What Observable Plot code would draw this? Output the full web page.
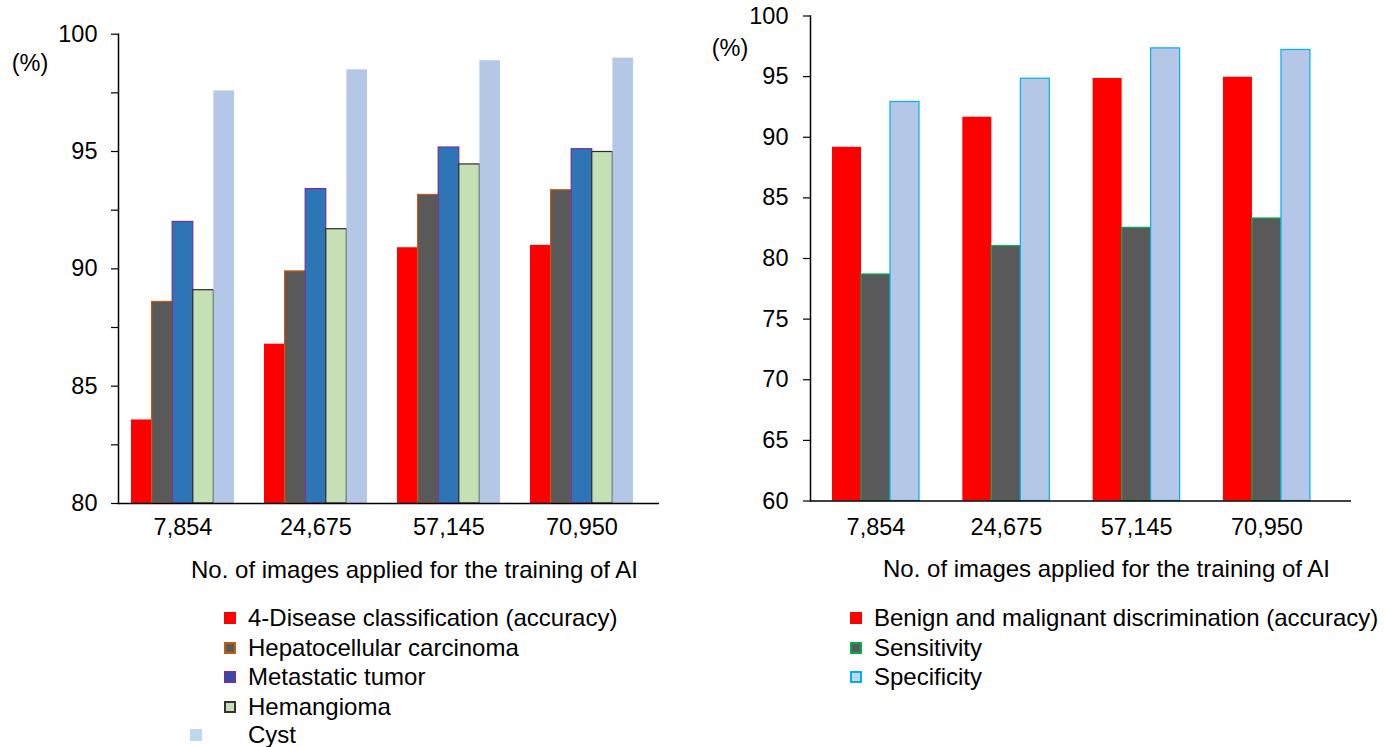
<!DOCTYPE html>
<html>
<head>
<meta charset="utf-8">
<script src="https://cdn.jsdelivr.net/npm/d3@7"></script>
<script src="https://cdn.jsdelivr.net/npm/@observablehq/plot@0.6"></script>
<style>
  body { margin: 0; background: #fff; font-family: "Liberation Sans", Arial, Helvetica, sans-serif; }
  #wrap { position: relative; width: 1389px; height: 747px; overflow: hidden; background: #fff; }
  .chart { position: absolute; top: 0; }
  .row { position: absolute; white-space: nowrap; height: 30px; line-height: 30px; font-size: 24px; color: #000; }
  .sw { position: absolute; width: 12px; height: 12px; box-sizing: border-box; }
</style>
</head>
<body>
<div id="wrap"></div>
<script>
// ---------- data ----------
const groups = ["7,854", "24,675", "57,145", "70,950"];
const xTitle = "No. of images applied for the training of AI";
const unitLabel = "(%)";

const leftSeries = ["4-Disease classification (accuracy)", "Hepatocellular carcinoma", "Metastatic tumor", "Hemangioma", "Cyst"];
const leftAccuracy = [83.56, 86.79, 90.9, 91.0];
const leftHCC = [88.59, 89.89, 93.15, 93.35];
const leftMetastatic = [92.0, 93.4, 95.17, 95.1];
const leftHemangioma = [89.09, 91.69, 94.45, 94.98];
const leftCyst = [97.58, 98.48, 98.87, 98.98];
const leftYDomain = [80, 100];
const leftYTicks = [80, 82.5, 85, 87.5, 90, 92.5, 95, 97.5, 100];

const rightSeries = ["Benign and malignant discrimination (accuracy)", "Sensitivity", "Specificity"];
const rightAccuracy = [89.17, 91.65, 94.85, 94.95];
const rightSensitivity = [78.68, 81.02, 82.53, 83.3];
const rightSpecificity = [92.91, 94.83, 97.33, 97.2];
const rightYDomain = [60, 100];
const rightYTicks = [60, 65, 70, 75, 80, 85, 90, 95, 100];

// ---------- styles ----------
const leftStyles = [
  {fill: "#ff0000", stroke: "none", swFill: "#ff0000", swBorder: "#ff0000"},
  {fill: "#595959", stroke: "#c55a11", swFill: "#595959", swBorder: "#c55a11"},
  {fill: "#2e75b6", stroke: "#7030a0", swFill: "#2f4f9f", swBorder: "#7030a0"},
  {fill: "#c5e0b4", stroke: "#2b2b2b", swFill: "#c5e0b4", swBorder: "#333333"},
  {fill: "#b4c7e7", stroke: "none", swFill: "#bdd7ee", swBorder: "#bdd7ee"}
];
const rightStyles = [
  {fill: "#ff0000", stroke: "none", swFill: "#ff0000", swBorder: "#ff0000"},
  {fill: "#595959", stroke: "#00b050", swFill: "#595959", swBorder: "#00b050"},
  {fill: "#b4c7e7", stroke: "#00b0f0", swFill: "#bdd7ee", swBorder: "#00b0f0"}
];

function groupedBars(cfg) {
  const {width, height, marginLeft, marginRight, marginTop, marginBottom,
         yDomain, yTicks, series, values, styles, band,
         yTickPadding, xTickPadding, titleDx, titleDy, pctDx, pctDy} = cfg;
  const xOpts = {type: "band", domain: groups, paddingInner: band.pi, paddingOuter: band.po, align: band.align, round: false};
  const xs = Plot.scale({x: {...xOpts, range: [marginLeft, width - marginRight]}});
  const w = xs.bandwidth / series.length;
  const bars = series.map((s, i) => {
    const rows = groups.map((g, j) => ({group: g, series: s, value: values[i][j]}));
    return Plot.barY(rows, {
      x: "group", y1: () => yDomain[0], y2: "value",
      fill: styles[i].fill, stroke: styles[i].stroke, strokeWidth: 1.2,
      insetLeft: i * w, insetRight: (series.length - 1 - i) * w
    });
  });
  return Plot.plot({
    width, height, marginLeft, marginRight, marginTop, marginBottom,
    style: {fontSize: "23.5px", fontFamily: "'Liberation Sans', Arial, Helvetica, sans-serif", color: "#000", background: "transparent"},
    x: {...xOpts, axis: null},
    y: {domain: yDomain, axis: null},
    marks: [
      ...bars,
      Plot.ruleY([yDomain[0]], {stroke: "#000", strokeWidth: 1.5}),
      Plot.frame({anchor: "left", stroke: "#000", strokeWidth: 1.5}),
      Plot.axisY({ticks: yTicks, tickSize: 7, tickPadding: yTickPadding, label: null,
                  tickFormat: d => (d % 5 === 0 ? String(d) : ""), stroke: "#000", strokeWidth: 1.2}),
      Plot.axisX({tickSize: 0, tickPadding: xTickPadding, label: null}),
      Plot.text([xTitle], {text: d => d, frameAnchor: "bottom", textAnchor: "middle", lineAnchor: "middle", dx: titleDx, dy: titleDy, fontSize: 24}),
      Plot.text([unitLabel], {text: d => d, frameAnchor: "top-left", textAnchor: "middle", lineAnchor: "middle", dx: pctDx, dy: pctDy, fontSize: 23.5})
    ]
  });
}

const wrap = document.getElementById("wrap");

const left = groupedBars({
  width: 700, height: 600, marginLeft: 118, marginRight: 41, marginTop: 33.7, marginBottom: 97,
  yDomain: leftYDomain, yTicks: leftYTicks, series: leftSeries,
  values: [leftAccuracy, leftHCC, leftMetastatic, leftHemangioma, leftCyst], styles: leftStyles,
  band: {pi: 0.2256, po: 0.1467, align: 0.333},
  yTickPadding: 14, xTickPadding: 15, titleDx: 25.5, titleDy: 67, pctDx: -88.5, pctDy: 29
});
left.classList.add("chart");
left.style.left = "0px";
wrap.appendChild(left);

const right = groupedBars({
  width: 689, height: 600, marginLeft: 110, marginRight: 38, marginTop: 15.5, marginBottom: 99.5,
  yDomain: rightYDomain, yTicks: rightYTicks, series: rightSeries,
  values: [rightAccuracy, rightSensitivity, rightSpecificity], styles: rightStyles,
  band: {pi: 0.3325, po: 0.242, align: 0.349},
  yTickPadding: 15, xTickPadding: 17, titleDx: 25.5, titleDy: 68.5, pctDx: -80.5, pctDy: 32.5
});
right.classList.add("chart");
right.style.left = "700px";
wrap.appendChild(right);

// ---------- legends (HTML) ----------
function legend(series, styles, textLeft, swLefts, centers) {
  series.forEach((s, i) => {
    const row = document.createElement("div");
    row.className = "row";
    row.style.left = textLeft + "px";
    row.style.top = (centers[i] - 15) + "px";
    row.textContent = s;
    wrap.appendChild(row);
    const sw = document.createElement("div");
    sw.className = "sw";
    sw.style.left = swLefts[i] + "px";
    sw.style.top = (centers[i] - 6) + "px";
    sw.style.background = styles[i].swFill;
    sw.style.border = "2px solid " + styles[i].swBorder;
    wrap.appendChild(sw);
  });
}
legend(leftSeries, leftStyles, 248, [224, 224, 224, 224, 190], [617.5, 647.5, 677, 706.5, 735]);
legend(rightSeries, rightStyles, 874, [850, 850, 850], [617.5, 647.5, 677]);
</script>
</body>
</html>
